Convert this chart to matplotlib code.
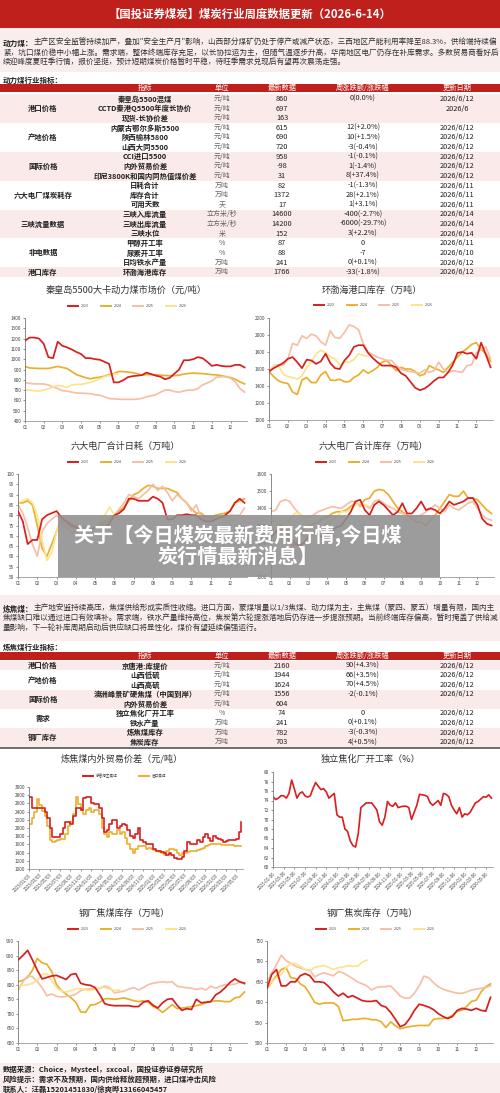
import matplotlib
matplotlib.use('Agg')
import matplotlib.pyplot as plt
from matplotlib.patches import Rectangle
import numpy as np

plt.rcParams['font.family'] = ['Noto Sans CJK SC', 'DejaVu Sans']

# ---------------- text content ----------------
header_title = "【国投证券煤炭】煤炭行业周度数据更新（2026-6-14）"
para1_prefix = "动力煤："
para1_lines = [
    "主产区安全监管持续加严，叠加\"安全生产月\"影响，山西部分煤矿仍处于停产或减产状态，三西地区产能利用率降至88.3%，供给端持续偏",
    "紧，坑口煤价稳中小幅上涨。需求端，整体终端库存充足，以长协拉运为主，但随气温逐步升高，华南地区电厂仍存在补库需求。多数贸易商看好后",
    "续迎峰度夏旺季行情，报价坚挺，预计短期煤炭价格暂时平稳，待旺季需求兑现后有望再次震荡走强。",
]
para2_prefix = "炼焦煤："
para2_lines = [
    "主产地安监持续高压，焦煤供给形成实质性收缩。进口方面，蒙煤增量以1/3焦煤、动力煤为主，主焦煤（蒙四、蒙五）增量有限，国内主",
    "焦煤缺口难以通过进口有效填补。需求端，铁水产量维持高位，焦炭第六轮提涨落地后仍存进一步提涨预期。当前终端库存偏高，暂时掩盖了供给减",
    "量影响，下一轮补库周期启动后供应缺口将显性化，煤价有望延续偏强运行。",
]
table_header = ["指标", "单位", "最新数据", "周涨跌额/涨跌幅", "更新日期"]

# ---------------- table 1: 动力煤 ----------------
coal_groups = ["港口价格", "产地价格", "国际价格", "六大电厂煤炭耗存", "三峡流量数据", "非电数据", "港口库存"]
coal_group_sizes = [3, 3, 3, 3, 3, 3, 1]
coal_items = ["秦皇岛5500混煤", "CCTD秦港Q5500年度长协价", "现货-长协价差",
              "内蒙古鄂尔多斯5500", "陕西榆林5800", "山西大同5500",
              "CCI进口5500", "内外贸易价差", "印尼3800K和国内同热值煤价差",
              "日耗合计", "库存合计", "可用天数",
              "三峡入库流量", "三峡出库流量", "三峡水位",
              "甲醇开工率", "尿素开工率", "日均铁水产量",
              "环渤海港库存"]
coal_units = ["元/吨", "元/吨", "元/吨", "元/吨", "元/吨", "元/吨", "元/吨", "元/吨", "元/吨",
              "万吨", "万吨", "天", "立方米/秒", "立方米/秒", "米", "%", "%", "万吨", "万吨"]
coal_latest = ["860", "697", "163", "615", "690", "720", "958", "-98", "31", "82", "1372", "17",
               "14600", "14200", "152", "87", "88", "241", "1766"]
coal_change = ["0(0.0%)", "", "", "12(+2.0%)", "10(+1.5%)", "-3(-0.4%)", "-1(-0.1%)", "1(-1.4%)",
               "8(+37.4%)", "-1(-1.3%)", "28(+2.1%)", "1(+3.1%)", "-400(-2.7%)", "-6000(-29.7%)",
               "3(+2.2%)", "0", "-7", "0(+0.1%)", "-33(-1.8%)"]
coal_dates = ["2026/6/12", "2026/6", "", "2026/6/12", "2026/6/12", "2026/6/12", "2026/6/12",
              "2026/6/12", "2026/6/12", "2026/6/11", "2026/6/11", "2026/6/11", "2026/6/14",
              "2026/6/14", "2026/6/14", "2026/6/11", "2026/6/10", "2026/6/12", "2026/6/12"]

# ---------------- table 2: 炼焦煤 ----------------
coke_groups = ["港口价格", "产地价格", "国际价格", "需求", "钢厂库存"]
coke_group_sizes = [1, 2, 2, 2, 2]
coke_items = ["京唐港:库提价", "山西低硫", "山西高硫", "澳洲峰景矿硬焦煤（中国到岸）", "内外贸易价差",
              "独立焦化厂开工率", "铁水产量", "炼焦煤库存", "焦炭库存"]
coke_units = ["元/吨", "元/吨", "元/吨", "元/吨", "元/吨", "%", "万吨", "万吨", "万吨"]
coke_latest = ["2160", "1944", "1624", "1556", "604", "74", "241", "782", "703"]
coke_change = ["90(+4.3%)", "66(+3.5%)", "70(+4.5%)", "-2(-0.1%)", "", "0", "0(+0.1%)", "-3(-0.3%)", "4(+0.5%)"]
coke_dates = ["2026/6/12", "2026/6/12", "2026/6/12", "2026/6/12", "", "2026/6/12", "2026/6/12",
              "2026/6/12", "2026/6/12"]

footer_lines = ["数据来源：Choice，Mysteel，sxcoal，国投证券证券研究所",
                "风险提示：需求不及预期，国内供给释放超预期，进口煤冲击风险",
                "联系人：汪磊15201451830/徐爽晔13166045457"]
watermark_lines = ["关于【今日煤炭最新费用行情,今日煤", "炭行情最新消息】"]

# ---------------- seasonal series (4 points per month) ----------------
years = ["2023", "2024", "2025", "2026"]
month_labels = ["01", "02", "03", "04", "05", "06", "07", "08", "09", "10", "11", "12"]

qhd_2023 = [1180, 1210, 1210, 1200, 1150, 1020, 1010, 1170, 1130, 1115, 1095, 1070,
            1050, 1010, 1010, 1000, 995, 975, 955, 775, 775, 795, 825, 835,
            840, 845, 870, 855, 840, 830, 805, 820, 860, 900, 990, 990,
            1000, 1020, 1010, 975, 935, 945, 935, 930, 930, 945, 945, 920]
qhd_2024 = [930, 915, 912, 910, 910, 910, 920, 930, 920, 910, 880, 850,
            835, 820, 810, 820, 825, 835, 850, 860, 880, 880, 875, 870,
            860, 845, 850, 850, 850, 845, 842, 840, 840, 845, 855, 862,
            865, 862, 860, 855, 850, 848, 840, 830, 822, 805, 780, 760]
qhd_2025 = [770, 765, 760, 760, 760, 750, 730, 715, 695, 690, 680, 672,
            670, 668, 665, 655, 650, 635, 618, 615, 612, 610, 610, 610,
            612, 620, 635, 645, 655, 680, 700, 700, 685, 680, 692, 700,
            700, 715, 750, 770, 790, 825, 830, 830, 815, 780, 715, 680]
qhd_2026 = [700, 700, 693, 690, 700, 712, 730, 745, 740, 725, 750, 755,
            755, 765, 775, 790, 810, 830, 840, 855, 860]

port_2023 = [1570, 1610, 1640, 1670, 1720, 1740, 1680, 1610, 1710, 1700, 1660, 1690,
             1780, 1670, 1610, 1600, 1700, 1760, 1860, 1880, 1880, 1790, 1730, 1680,
             1640, 1640, 1640, 1620, 1550, 1520, 1450, 1380, 1350, 1370, 1410, 1460,
             1500, 1500, 1560, 1650, 1790, 1800, 1780, 1790, 1720, 1910, 1770, 1620]
port_2024 = [1570, 1510, 1460, 1440, 1430, 1330, 1300, 1470, 1500, 1440, 1440, 1530,
             1570, 1470, 1465, 1480, 1450, 1450, 1500, 1530, 1590, 1550, 1580, 1620,
             1680, 1700, 1640, 1580, 1620, 1600, 1600, 1570, 1520, 1540, 1640, 1610,
             1590, 1560, 1620, 1680, 1740, 1800, 1840, 1890, 1910, 1830, 1780, 1690]
port_2025 = [1570, 1640, 1650, 1640, 1720, 1900, 1880, 1990, 1960, 2010, 1990, 1920,
             1880, 2050, 1970, 1960, 2030, 2120, 2100, 2060, 1900, 1800, 1770, 1740,
             1720, 1700, 1700, 1640, 1600, 1580, 1570, 1560, 1550, 1590, 1560, 1580,
             1680, 1600, 1560, 1580, 1570, 1560, 1640, 1650, 1790, 1830, 1860, 1720]
port_2026 = [1570, 1640, 1640, 1540, 1510, 1500, 1480, 1520, 1620, 1680, 1780, 1820,
             1790, 1740, 1720, 1650, 1680, 1680, 1710, 1780, 1760, 1750]

burn_2023 = [82, 77, 66, 68, 68, 78, 80, 81, 82, 79, 77, 75,
             74, 73, 73, 73, 74, 74, 74, 76, 80, 81, 83, 88,
             88, 87, 87, 87, 89, 88, 86, 78, 78, 80, 80, 80.5,
             80, 80, 78, 77, 77, 78, 79, 80, 82, 86, 88, 86]
burn_2024 = [86, 86, 87, 85, 75, 64, 60, 66, 72, 78, 77, 76,
             75, 74, 74, 73, 74, 75, 76, 78, 80, 82, 84, 87,
             90, 91, 93, 94.5, 94, 93, 93, 93, 92, 91, 88, 86,
             83, 81, 81, 79, 79, 80, 80.5, 81, 82, 86, 87, 88]
burn_2025 = [85, 81, 74, 66, 60, 72, 76, 78, 80, 77, 74, 72,
             72, 72, 73, 73, 74, 76, 77, 78, 80, 83, 86, 90,
             89, 88, 90, 92, 95, 92, 94, 91, 87, 90, 88, 86,
             82, 85, 79, 78, 78, 79, 79, 79, 80, 80, 80, 83.5]
burn_2026 = [86, 87, 88, 86, 80, 68, 58, 62, 72, 79, 76, 74,
             73, 72, 72, 73, 74, 76, 80, 84, 80, 78]

stock_2023 = [1230, 1260, 1300, 1280, 1230, 1200, 1180, 1200, 1240, 1260, 1250, 1230,
              1250, 1270, 1290, 1300, 1340, 1380, 1440, 1450, 1390, 1360, 1420, 1440,
              1420, 1390, 1360, 1380, 1430, 1370, 1370, 1400, 1440, 1390, 1400, 1390,
              1370, 1400, 1440, 1420, 1430, 1440, 1460, 1460, 1420, 1340, 1310, 1300]
stock_2024 = [1330, 1320, 1300, 1250, 1200, 1180, 1230, 1280, 1300, 1310, 1320, 1340,
              1350, 1370, 1380, 1380, 1390, 1410, 1430, 1420, 1450, 1460, 1500, 1510,
              1505, 1480, 1440, 1400, 1380, 1360, 1340, 1320, 1320, 1300, 1330, 1360,
              1400, 1440, 1480, 1470, 1470, 1500, 1460, 1460, 1450, 1420, 1390, 1370]
stock_2025 = [1380, 1390, 1440, 1450, 1440, 1400, 1370, 1350, 1350, 1360, 1380, 1390,
              1400, 1410, 1405, 1400, 1420, 1440, 1440, 1410, 1420, 1400, 1440, 1450,
              1430, 1410, 1400, 1380, 1370, 1360, 1350, 1355, 1360, 1380, 1400, 1420,
              1400, 1380, 1420, 1400, 1390, 1410, 1430, 1440, 1400, 1360, 1340, 1330]
stock_2026 = [1340, 1320, 1300, 1310, 1330, 1370, 1370, 1350, 1300, 1260, 1250, 1270,
              1300, 1330, 1350, 1380, 1380, 1400, 1420, 1430, 1420, 1410]

cc_2023 = [885, 900, 918, 885, 850, 820, 825, 830, 832, 825, 818, 835,
           838, 805, 800, 798, 790, 765, 735, 730, 728, 728, 728, 728,
           725, 725, 740, 745, 730, 720, 738, 750, 752, 730, 712, 718,
           715, 750, 738, 740, 742, 765, 775, 790, 808, 820, 810, 805]
cc_2024 = [810, 815, 825, 850, 890, 875, 870, 845, 800, 780, 768, 755,
           740, 707, 705, 730, 732, 740, 752, 752, 750, 752, 755, 750,
           745, 742, 745, 740, 725, 718, 705, 718, 732, 718, 720, 722,
           725, 728, 732, 738, 742, 745, 744, 742, 742, 755, 758, 775]
cc_2025 = [780, 810, 830, 828, 810, 790, 762, 768, 760, 758, 760, 762,
           768, 780, 785, 785, 785, 788, 795, 790, 772, 775, 778, 785,
           790, 782, 790, 800, 805, 808, 810, 808, 810, 795, 792, 790,
           788, 784, 788, 782, 795, 788, 795, 800, 800, 802, 810, 802]
cc_2026 = [795, 798, 800, 805, 815, 835, 838, 815, 790, 778, 775, 780,
           785, 787, 782, 780, 785, 790, 790, 785, 780, 782]

ck_2023 = [635, 668, 680, 640, 640, 650, 650, 665, 670, 665, 650, 650,
           648, 638, 625, 615, 622, 612, 616, 610, 604, 602, 602, 604,
           592, 588, 575, 558, 540, 545, 560, 580, 595, 592, 588, 582,
           572, 565, 560, 565, 580, 585, 583, 580, 585, 580, 578, 612]
ck_2024 = [633, 650, 665, 680, 685, 660, 658, 645, 638, 620, 600, 595,
           598, 598, 598, 590, 555, 556, 558, 558, 560, 560, 557, 557,
           552, 538, 552, 542, 535, 538, 540, 542, 543, 543, 543, 558,
           560, 560, 562, 568, 578, 580, 590, 602, 605, 625, 638, 645]
ck_2025 = [650, 672, 692, 715, 702, 695, 688, 684, 680, 679, 662, 668,
           672, 668, 665, 675, 672, 665, 658, 650, 645, 640, 630, 636,
           638, 638, 640, 628, 615, 610, 610, 622, 640, 664, 660, 648,
           638, 632, 628, 625, 622, 622, 625, 630, 632, 634, 636, 640]
ck_2026 = [640, 650, 660, 668, 685, 695, 695, 688, 680, 676, 685, 688,
           690, 685, 680, 685, 686, 690, 688, 688, 698, 703]

# ---------------- long series (2 points per month from 2023-01) ----------------
spread_labels = ["2023/01/03", "2023/03/03", "2023/05/03", "2023/07/03", "2023/09/03", "2023/11/03",
                 "2024/01/03", "2024/03/03", "2024/05/03", "2024/07/03", "2024/09/03", "2024/11/03",
                 "2025/01/03", "2025/03/03", "2025/05/03", "2025/07/03", "2025/09/03", "2025/11/03",
                 "2026/01/03", "2026/03/03", "2026/05/03"]
spread_names = ["京唐港主焦煤", "进口焦煤"]
jtg_coking = [2750, 2480, 2480, 2480, 2480, 2480, 2400, 2250, 2000, 1780, 1780, 1780,
              1850, 2000, 2150, 2150, 2100, 2300, 2500, 2480, 2450, 2720, 2750, 2750,
              2600, 2580, 2580, 2500, 2250, 1900, 1950, 2100, 2200, 2200, 2000, 2050,
              2100, 2080, 1950, 1800, 1750, 1850, 2000, 1700, 1650, 1600, 1620, 1600,
              1500, 1450, 1450, 1420, 1380, 1350, 1400, 1330, 1280, 1250, 1250, 1300,
              1450, 1650, 1620, 1600, 1620, 1700, 1650, 1780, 1850, 1750, 1680, 1800,
              1760, 1720, 1700, 1650, 1680, 1700, 1700, 1700, 1720, 1900, 2150]
import_coking = [2100, 2250, 2400, 2700, 2550, 2420, 2300, 2050, 1700, 1650, 1680, 1700,
                 1720, 1720, 1850, 2050, 2150, 2350, 2750, 2580, 2450, 2330, 2450, 2480,
                 2400, 2430, 2450, 2350, 2000, 1850, 1780, 1900, 1850, 1850, 1950, 1850,
                 1900, 1750, 1600, 1480, 1400, 1480, 1550, 1570, 1550, 1500, 1510, 1500,
                 1460, 1450, 1420, 1400, 1350, 1450, 1480, 1500, 1470, 1400, 1350, 1400,
                 1400, 1420, 1440, 1450, 1450, 1470, 1500, 1520, 1550, 1580, 1600, 1610,
                 1600, 1600, 1590, 1590, 1590, 1580, 1580, 1570, 1570, 1560, 1555]

util_labels = ["2023-01-06", "2023-03-06", "2023-05-06", "2023-07-06", "2023-09-06", "2023-11-06",
               "2024-01-06", "2024-03-06", "2024-05-06", "2024-07-06", "2024-09-06", "2024-11-06",
               "2025-01-06", "2025-03-06", "2025-05-06", "2025-07-06", "2025-09-06", "2025-11-06",
               "2026-01-06", "2026-03-06", "2026-05-06"]
coking_util = [74.8, 74.2, 74.5, 75.0, 75.0, 74.5, 75.5, 78.3, 76.5, 74.5, 75.5, 75.8,
               75.0, 74.7, 75.0, 76.5, 77.8, 77.0, 76.3, 76.5, 75.8, 74.5, 75.0, 75.5,
               71.0, 70.5, 70.5, 68.0, 67.5, 65.5, 64.5, 64.2, 67.0, 72.5, 73.0, 73.5,
               73.5, 73.5, 72.8, 72.0, 69.5, 68.8, 70.5, 73.8, 73.0, 72.8, 73.5, 72.5,
               72.7, 72.8, 72.8, 72.5, 70.0, 71.5, 73.0, 75.3, 75.2, 75.1, 74.8, 73.5,
               73.0, 73.5, 74.0, 73.0, 75.5, 75.3, 74.8, 73.0, 72.0, 71.2, 72.5, 70.5,
               71.2, 71.0, 71.5, 72.5, 73.5, 73.8, 74.3, 74.8, 74.7, 75.2, 74.5]

# ---------------- style ----------------
RED = "#C0201B"
PINK = "#FAEAEA"
PARA_BG = "#F9EDED"
YEAR_COLORS = ["#D91E1E", "#E8B02E", "#F6BFA6", "#FCE48C"]
TXT = "#222222"
W, H = 500, 1093

fig = plt.figure(figsize=(W / 100, H / 100), dpi=100)
fig.patch.set_facecolor("white")
bg = fig.add_axes([0, 0, 1, 1], zorder=0)
bg.set_xlim(0, W)
bg.set_ylim(H, 0)
bg.axis("off")
renderer = fig.canvas.get_renderer()


def text_width(t):
    bb = t.get_window_extent(renderer=renderer)
    return bb.width


# header
bg.add_patch(Rectangle((0, 0), W, 28, color=RED, lw=0))
bg.text(W / 2, 14.5, header_title, color="white", fontsize=8.2, fontweight="bold", ha="center", va="center")


def paragraph(prefix, lines, y0, dy, x0=3, x1=497, size=5.4):
    p = bg.text(x0, y0, prefix, fontsize=size, fontweight="bold", color=TXT, ha="left", va="center")
    pw = text_width(p)
    probe = bg.text(x0 + pw, y0, lines[0], fontsize=size, color="#333333", ha="left", va="center")
    lw = text_width(probe)
    probe.remove()
    p.remove()
    s = size * (x1 - x0) / (pw + lw)
    p = bg.text(x0, y0, prefix, fontsize=s, fontweight="bold", color=TXT, ha="left", va="center")
    pw = text_width(p)
    for i, ln in enumerate(lines):
        bg.text(x0 + (pw if i == 0 else 0), y0 + i * dy, ln, fontsize=s, color="#333333",
                ha="left", va="center")


bg.add_patch(Rectangle((0, 28), W, 44, color=PARA_BG, lw=0))
paragraph(para1_prefix, para1_lines, 43, 9.6)

col_x = [145, 222, 282, 363, 457]


def table(title, title_y, hdr_y, row0, rh, groups, sizes, items, units, latest, change, dates):
    bg.text(3, title_y, title, fontsize=5.4, fontweight="bold", color=TXT, ha="left", va="center")
    bg.add_patch(Rectangle((0, hdr_y - 4.3), W, 8.6, color=RED, lw=0))
    for h, x in zip(table_header, col_x):
        bg.text(x, hdr_y, h, fontsize=5.2, color="white", ha="center", va="center")
    i = 0
    for gi, (g, n) in enumerate(zip(groups, sizes)):
        top = row0 + i * rh - rh / 2
        if gi % 2 == 0:
            bg.add_patch(Rectangle((0, top), W, n * rh, color=PINK, lw=0))
        bg.text(43, top + n * rh / 2, g, fontsize=5.3, fontweight="bold", color=TXT, ha="center", va="center")
        i += n
    for r in range(len(items)):
        y = row0 + r * rh
        bg.text(col_x[0], y, items[r], fontsize=5.3, fontweight="bold", color=TXT, ha="center", va="center")
        bg.text(col_x[1], y, units[r], fontsize=5.0, color="#666666", style="italic", ha="center", va="center")
        bg.text(col_x[2], y, latest[r], fontsize=5.3, color=TXT, ha="center", va="center")
        bg.text(col_x[3], y, change[r], fontsize=5.3, color=TXT, ha="center", va="center")
        bg.text(col_x[4], y, dates[r], fontsize=5.3, color=TXT, ha="center", va="center")


table("动力煤行业指标：", 80, 88, 99, 9.62, coal_groups, coal_group_sizes, coal_items, coal_units,
      coal_latest, coal_change, coal_dates)

bg.add_patch(Rectangle((0, 595), W, 46, color=PARA_BG, lw=0))
paragraph(para2_prefix, para2_lines, 609, 10)

table("炼焦煤行业指标：", 647, 656, 665.7, 9.55, coke_groups, coke_group_sizes, coke_items, coke_units,
      coke_latest, coke_change, coke_dates)
bg.plot([0, W], [748, 748], color="#555555", lw=1.2)

# footer
bg.add_patch(Rectangle((0, 1063), W, 30, color=PARA_BG, lw=0))
for i, ln in enumerate(footer_lines):
    bg.text(3, 1069 + i * 10, ln, fontsize=5.3, fontweight="bold", color=TXT, ha="left", va="center")


def title(x, y, s):
    bg.text(x, y, s, fontsize=6.6, color="#333333", ha="center", va="center")


def legend(x0, y, labels, colors, step):
    for i, (lb, c) in enumerate(zip(labels, colors)):
        xs = x0 + i * step
        bg.plot([xs, xs + 12], [y, y], color=c, lw=1.4, solid_capstyle="butt")
        bg.text(xs + 14, y, lb, fontsize=2.6, color="#444444", ha="left", va="center")


def make_axes(left, top, right, bottom):
    ax = fig.add_axes([left / W, 1 - bottom / H, (right - left) / W, (bottom - top) / H], zorder=2)
    ax.patch.set_alpha(0)
    for s in ["top", "right"]:
        ax.spines[s].set_visible(False)
    ax.spines["left"].set_color("#777777")
    ax.spines["bottom"].set_color("#999999")
    ax.spines["left"].set_linewidth(0.6)
    ax.spines["bottom"].set_linewidth(0.6)
    ax.tick_params(axis="both", labelsize=3.4, colors="#444444", length=1.5, width=0.4, pad=1.2)
    return ax


def seasonal(rect, series, ylim, ystep, ttl, tpos, lx, ly):
    ax = make_axes(*rect)
    for s, c in zip(series, YEAR_COLORS):
        xs = np.arange(len(s)) / 4.0
        ax.plot(xs, s, color=c, lw=1.25, zorder=3 if c == YEAR_COLORS[0] else 2)
    ax.set_xlim(0, 11.88)
    ax.set_ylim(*ylim)
    ax.set_yticks(np.arange(ylim[0], ylim[1] + ystep / 2, ystep))
    ax.set_xticks(range(12))
    ax.set_xticklabels(month_labels)
    title(tpos[0], tpos[1], ttl)
    legend(lx, ly, years, YEAR_COLORS, 32.5)
    return ax


seasonal((25, 318, 247, 421), [qhd_2023, qhd_2024, qhd_2025, qhd_2026], (400, 1400), 100,
         "秦皇岛5500大卡动力煤市场价（元/吨）", (126, 290), 67, 306)
seasonal((269, 318, 493, 420), [port_2023, port_2024, port_2025, port_2026], (1000, 2200), 200,
         "环渤海港口库存（万吨）", (372, 290), 313, 305)
seasonal((18, 474, 247, 577), [burn_2023, burn_2024, burn_2025, burn_2026], (50, 100), 5,
         "六大电厂合计日耗（万吨）", (125, 446), 67, 462)
seasonal((271, 474, 494, 577), [stock_2023, stock_2024, stock_2025, stock_2026], (1000, 1600), 100,
         "六大电厂合计库存（万吨）", (373, 446), 315, 462)
seasonal((18, 941, 247, 1043), [cc_2023, cc_2024, cc_2025, cc_2026], (600, 950), 50,
         "钢厂焦煤库存（万吨）", (124, 913), 67, 929)
seasonal((267, 941, 493, 1043), [ck_2023, ck_2024, ck_2025, ck_2026], (500, 750), 50,
         "钢厂焦炭库存（万吨）", (372, 913), 315, 929)

# spread chart
ax5 = make_axes(29, 787, 243, 869)
ax5.plot(np.arange(len(jtg_coking)) / 2.0, jtg_coking, color=YEAR_COLORS[0], lw=1.2, zorder=3,
         drawstyle="steps-post")
ax5.plot(np.arange(len(import_coking)) / 2.0, import_coking, color=YEAR_COLORS[1], lw=1.2, zorder=2,
         drawstyle="steps-post")
ax5.set_xlim(0, 41.3)
ax5.set_ylim(1000, 3000)
ax5.set_yticks(np.arange(1000, 3001, 200))
ax5.set_xticks(np.arange(len(spread_labels)) * 2)
ax5.set_xticklabels(spread_labels, rotation=45, ha="right", rotation_mode="anchor", fontsize=3.2)
title(122, 759, "炼焦煤内外贸易价差（元/吨）")
legend(82, 776, [spread_names[0]], [YEAR_COLORS[0]], 0)
legend(138, 776, [spread_names[1]], [YEAR_COLORS[1]], 0)

# utilisation chart
ax6 = make_axes(273, 772, 493, 867)
ax6.plot(np.arange(len(coking_util)) / 2.0, coking_util, color=YEAR_COLORS[0], lw=1.2)
ax6.set_xlim(0, 41.3)
ax6.set_ylim(60, 80)
ax6.set_yticks(np.arange(60, 81, 2))
ax6.set_xticks(np.arange(len(util_labels)) * 2)
ax6.set_xticklabels(util_labels, rotation=45, ha="right", rotation_mode="anchor", fontsize=3.2)
title(371, 759, "独立焦化厂开工率（%）")

# watermark overlay
ov = fig.add_axes([0, 0, 1, 1], zorder=10)
ov.set_xlim(0, W)
ov.set_ylim(H, 0)
ov.axis("off")
ov.patch.set_alpha(0)
ov.add_patch(Rectangle((58, 515), 382, 62, color="#8f8f8f", alpha=0.88, lw=0))
ov.text(238, 535, watermark_lines[0], fontsize=14.5, fontweight="bold", color="white", ha="center", va="center")
ov.text(238, 556, watermark_lines[1], fontsize=14.5, fontweight="bold", color="white", ha="center", va="center")

fig.savefig("out.png", dpi=100)
